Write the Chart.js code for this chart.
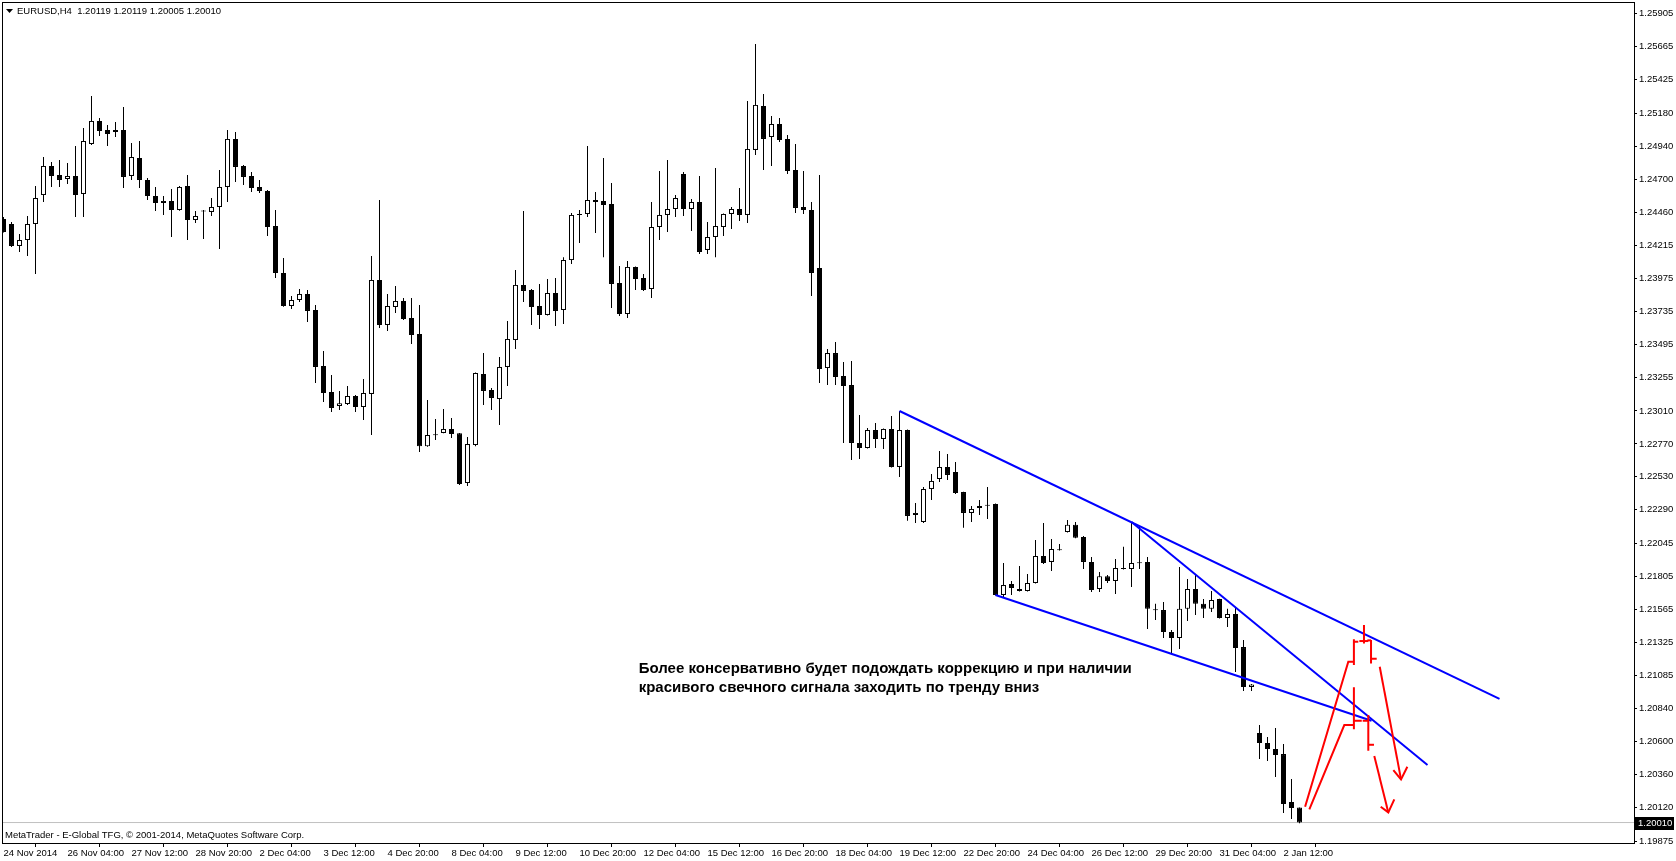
<!DOCTYPE html>
<html>
<head>
<meta charset="utf-8">
<title>EURUSD,H4</title>
<style>
  html, body { margin: 0; padding: 0; background: #ffffff; }
  #chart { display: block; }
</style>
<script src="https://cdn.jsdelivr.net/npm/chart.js@4.4.1/dist/chart.umd.min.js"></script>
</head>
<body>
<canvas id="chart" width="1676" height="861"></canvas>
<script>
// Symbol / timeframe shown in the corner
const symbolName = 'EURUSD,H4';

// H4 candles, bar 0 = 24 Nov 2014 20:00
const opens = [
  1.24410, 1.24373, 1.24213, 1.24256, 1.24373, 1.24584, 1.24796, 1.24730, 1.24701, 1.24723,
  1.24592, 1.24956, 1.25124, 1.25058, 1.25044, 1.25058, 1.24723, 1.24854, 1.24694, 1.24577,
  1.24526, 1.24541, 1.24475, 1.24650, 1.24402, 1.24468, 1.24461, 1.24497, 1.24643, 1.24993,
  1.24796, 1.24723, 1.24643, 1.24614, 1.24358, 1.24016, 1.23775, 1.23819, 1.23863, 1.23746,
  1.23338, 1.23149, 1.23046, 1.23061, 1.23119, 1.23039, 1.23134, 1.23965, 1.23637, 1.23768,
  1.23812, 1.23688, 1.23571, 1.22753, 1.22835, 1.22850, 1.22879, 1.22847, 1.22485, 1.22762,
  1.23280, 1.23163, 1.23097, 1.23331, 1.23527, 1.23929, 1.23892, 1.23775, 1.23710, 1.23870,
  1.23746, 1.24110, 1.24446, 1.24446, 1.24548, 1.24541, 1.24519, 1.23943, 1.23717, 1.24060,
  1.23980, 1.23899, 1.24351, 1.24439, 1.24482, 1.24738, 1.24482, 1.24533, 1.24184, 1.24278,
  1.24351, 1.24446, 1.24482, 1.24439, 1.24913, 1.25233, 1.25007, 1.25102, 1.24993, 1.24767,
  1.24497, 1.24475, 1.24052, 1.23323, 1.23432, 1.23265, 1.23199, 1.22777, 1.22740, 1.22871,
  1.22806, 1.22879, 1.22602, 1.22871, 1.22252, 1.22201, 1.22441, 1.22514, 1.22602, 1.22565,
  1.22419, 1.22267, 1.22303, 1.22325, 1.22332, 1.21669, 1.21749, 1.21712, 1.21698, 1.21756,
  1.21953, 1.21910, 1.21997, 1.22128, 1.22180, 1.22092, 1.21910, 1.21712, 1.21806, 1.21771,
  1.21865, 1.21858, 1.21902, 1.21910, 1.21559, 1.21559, 1.21399, 1.21355, 1.21568, 1.21712,
  1.21604, 1.21568, 1.21639, 1.21501, 1.21530, 1.21289, 1.20998, 1.20663, 1.20590, 1.20546,
  1.20509, 1.20160, 1.20119
];
const highs = [
  1.24424, 1.24388, 1.24300, 1.24431, 1.24650, 1.24861, 1.24825, 1.24840, 1.24818, 1.24942,
  1.25073, 1.25306, 1.25146, 1.25095, 1.25117, 1.25226, 1.24964, 1.24978, 1.24708, 1.24643,
  1.24577, 1.24628, 1.24650, 1.24730, 1.24468, 1.24475, 1.24562, 1.24767, 1.25058, 1.25044,
  1.24803, 1.24752, 1.24694, 1.24621, 1.24475, 1.24125, 1.23848, 1.23899, 1.23892, 1.23783,
  1.23447, 1.23272, 1.23156, 1.23192, 1.23127, 1.23243, 1.24140, 1.24548, 1.23863, 1.23921,
  1.23834, 1.23834, 1.23783, 1.23090, 1.22951, 1.23024, 1.22959, 1.22850, 1.22820, 1.23290,
  1.23432, 1.23177, 1.23403, 1.23666, 1.24038, 1.24468, 1.23899, 1.23936, 1.23972, 1.23980,
  1.24131, 1.24453, 1.24475, 1.24942, 1.24606, 1.24854, 1.24672, 1.24067, 1.24103, 1.24063,
  1.24009, 1.24533, 1.24759, 1.24840, 1.24584, 1.24752, 1.24555, 1.24723, 1.24388, 1.24781,
  1.24450, 1.24497, 1.24635, 1.25270, 1.25685, 1.25321, 1.25160, 1.25146, 1.25022, 1.24956,
  1.24759, 1.24533, 1.24730, 1.23462, 1.23513, 1.23367, 1.23374, 1.22981, 1.22886, 1.22922,
  1.22882, 1.22973, 1.23010, 1.22875, 1.22339, 1.22456, 1.22551, 1.22718, 1.22696, 1.22638,
  1.22422, 1.22317, 1.22361, 1.22456, 1.22335, 1.21902, 1.21771, 1.21880, 1.21821, 1.22070,
  1.22194, 1.22077, 1.22041, 1.22216, 1.22201, 1.22099, 1.21946, 1.21837, 1.21814, 1.21931,
  1.22020, 1.22201, 1.22164, 1.21946, 1.21604, 1.21618, 1.21413, 1.21872, 1.21785, 1.21814,
  1.21639, 1.21698, 1.21642, 1.21568, 1.21581, 1.21340, 1.21020, 1.20721, 1.20633, 1.20699,
  1.20582, 1.20327, 1.20119
];
const lows = [
  1.24310, 1.24206, 1.24169, 1.24140, 1.24009, 1.24533, 1.24643, 1.24643, 1.24665, 1.24424,
  1.24424, 1.24949, 1.25015, 1.24942, 1.25007, 1.24635, 1.24694, 1.24635, 1.24548, 1.24468,
  1.24439, 1.24278, 1.24470, 1.24256, 1.24380, 1.24264, 1.24431, 1.24191, 1.24533, 1.24679,
  1.24657, 1.24606, 1.24599, 1.24286, 1.23980, 1.23770, 1.23754, 1.23804, 1.23659, 1.23214,
  1.23075, 1.23002, 1.23017, 1.23053, 1.23002, 1.22944, 1.22835, 1.23615, 1.23593, 1.23724,
  1.23673, 1.23498, 1.22711, 1.22750, 1.22798, 1.22847, 1.22813, 1.22470, 1.22463, 1.22753,
  1.23053, 1.23017, 1.22908, 1.23192, 1.23462, 1.23804, 1.23637, 1.23608, 1.23706, 1.23630,
  1.23644, 1.24081, 1.24235, 1.24424, 1.24307, 1.24131, 1.23761, 1.23702, 1.23688, 1.23892,
  1.23885, 1.23834, 1.24256, 1.24315, 1.24424, 1.24431, 1.24322, 1.24154, 1.24154, 1.24131,
  1.24286, 1.24337, 1.24395, 1.24380, 1.24876, 1.24767, 1.24796, 1.24971, 1.24738, 1.24453,
  1.24446, 1.23848, 1.23214, 1.23199, 1.23199, 1.22777, 1.22653, 1.22660, 1.22737, 1.22740,
  1.22733, 1.22598, 1.22529, 1.22209, 1.22194, 1.22194, 1.22361, 1.22492, 1.22507, 1.22405,
  1.22158, 1.22201, 1.22252, 1.22223, 1.21665, 1.21654, 1.21669, 1.21695, 1.21695, 1.21753,
  1.21895, 1.21843, 1.21993, 1.22125, 1.22083, 1.21858, 1.21690, 1.21690, 1.21756, 1.21676,
  1.21855, 1.21727, 1.21858, 1.21421, 1.21486, 1.21355, 1.21238, 1.21275, 1.21479, 1.21523,
  1.21501, 1.21545, 1.21498, 1.21435, 1.21107, 1.20969, 1.20969, 1.20473, 1.20459, 1.20342,
  1.20079, 1.20036, 1.20005
];
const closes = [
  1.24315, 1.24213, 1.24256, 1.24373, 1.24562, 1.24796, 1.24723, 1.24694, 1.24723, 1.24584,
  1.24978, 1.25124, 1.25051, 1.25029, 1.25058, 1.24716, 1.24861, 1.24694, 1.24577, 1.24526,
  1.24541, 1.24475, 1.24643, 1.24402, 1.24431, 1.24464, 1.24497, 1.24643, 1.24993, 1.24789,
  1.24716, 1.24635, 1.24614, 1.24351, 1.24016, 1.23775, 1.23819, 1.23863, 1.23739, 1.23331,
  1.23141, 1.23032, 1.23067, 1.23119, 1.23039, 1.23141, 1.23965, 1.23637, 1.23775, 1.23812,
  1.23680, 1.23564, 1.22753, 1.22835, 1.22833, 1.22879, 1.22842, 1.22478, 1.22769, 1.23287,
  1.23156, 1.23105, 1.23331, 1.23535, 1.23929, 1.23885, 1.23768, 1.23710, 1.23870, 1.23739,
  1.24110, 1.24439, 1.24439, 1.24548, 1.24533, 1.24511, 1.23936, 1.23717, 1.24060, 1.23972,
  1.23892, 1.24351, 1.24439, 1.24482, 1.24562, 1.24482, 1.24533, 1.24169, 1.24278, 1.24358,
  1.24446, 1.24482, 1.24439, 1.24920, 1.25241, 1.24993, 1.25102, 1.24985, 1.24759, 1.24490,
  1.24475, 1.24016, 1.23316, 1.23432, 1.23258, 1.23192, 1.22777, 1.22740, 1.22871, 1.22806,
  1.22879, 1.22602, 1.22871, 1.22245, 1.22267, 1.22441, 1.22500, 1.22602, 1.22544, 1.22412,
  1.22267, 1.22296, 1.22317, 1.22320, 1.21669, 1.21741, 1.21720, 1.21698, 1.21756, 1.21953,
  1.21902, 1.22004, 1.21995, 1.22180, 1.22086, 1.21910, 1.21705, 1.21806, 1.21771, 1.21865,
  1.21858, 1.21902, 1.21900, 1.21568, 1.21557, 1.21399, 1.21355, 1.21568, 1.21712, 1.21604,
  1.21568, 1.21632, 1.21501, 1.21530, 1.21282, 1.20998, 1.21017, 1.20590, 1.20546, 1.20502,
  1.20145, 1.20116, 1.20010
];

// Time labels, one every 8 bars
const timeLabels = [
  '24 Nov 2014', '26 Nov 04:00', '27 Nov 12:00', '28 Nov 20:00', '2 Dec 04:00',
  '3 Dec 12:00', '4 Dec 20:00', '8 Dec 04:00', '9 Dec 12:00', '10 Dec 20:00',
  '12 Dec 04:00', '15 Dec 12:00', '16 Dec 20:00', '18 Dec 04:00', '19 Dec 12:00',
  '22 Dec 20:00', '24 Dec 04:00', '26 Dec 12:00', '29 Dec 20:00', '31 Dec 04:00',
  '2 Jan 12:00'
];
const labelStep = 8;

// Price scale labels
const priceTicks = [
  1.25905, 1.25665, 1.25425, 1.25180, 1.24940, 1.24700, 1.24460, 1.24215, 1.23975,
  1.23735, 1.23495, 1.23255, 1.23010, 1.22770, 1.22530, 1.22290, 1.22045, 1.21805,
  1.21565, 1.21325, 1.21085, 1.20840, 1.20600, 1.20360, 1.20120, 1.19875
];
const bidPrice = 1.20010;

// Visible range (bar index / price)
const xMin = -0.1875, xMax = 203.8125;
const yMin = 1.19861, yMax = 1.25991;

// Blue trend lines [bar, price] pairs
const trendLines = [
  [[112, 1.23010], [187, 1.20912]],
  [[124, 1.21669], [171, 1.20752]],
  [[141, 1.22201], [178, 1.20429]]
];

// Red hand-drawn scenario, polylines of [bar, price]
const scenarioLines = [
  [[162.7, 1.20125], [168.1, 1.21182], [168.8, 1.21182]],
  [[168.8, 1.21346], [168.8, 1.21158]],
  [[168.8, 1.21328], [169.35, 1.21328]],
  [[170.06, 1.21450], [170.06, 1.21316]],
  [[169.48, 1.21333], [170.6, 1.21333]],
  [[170.48, 1.21338], [170.94, 1.21338]],
  [[170.94, 1.21340], [170.94, 1.21170]],
  [[170.94, 1.21204], [171.65, 1.21204]],
  [[172.03, 1.21146], [174.69, 1.20325]],
  [[173.73, 1.20393], [174.69, 1.20325], [175.48, 1.20417]],
  [[163.23, 1.20106], [167.6, 1.20721], [168.8, 1.20721]],
  [[168.8, 1.20996], [168.8, 1.20690]],
  [[168.8, 1.20752], [169.78, 1.20752]],
  [[169.9, 1.20752], [170.6, 1.20752]],
  [[170.6, 1.20794], [170.6, 1.20533]],
  [[170.6, 1.20577], [171.31, 1.20577]],
  [[171.35, 1.20495], [173.1, 1.20084]],
  [[172.15, 1.20125], [173.1, 1.20084], [173.85, 1.20179]]
];

// Comment text on the chart
const noteLines = [
  'Более консервативно будет подождать коррекцию и при наличии',
  'красивого свечного сигнала заходить по тренду вниз'
];
const noteAnchor = { x: 79.4, y: 1.21129 };

const smallFont = "'Liberation Sans', Arial, sans-serif";
const tickFont = { family: smallFont, size: 9.5 };

const wicks = lows.map((l, i) => ({ x: i, y: [l, highs[i]] }));
const bodies = opens.map((o, i) => ({ x: i, y: [o, closes[i]] }));
const bodyColors = opens.map((o, i) => closes[i] >= o ? '#ffffff' : '#000000');

function toPoints(list) {
  return list.map(p => ({ x: p[0], y: p[1] }));
}

const datasets = [
  {
    type: 'line',
    data: [{ x: xMin, y: bidPrice }, { x: xMax, y: bidPrice }],
    borderColor: '#c0c0c0', borderWidth: 1, pointRadius: 0, order: 4
  },
  {
    type: 'bar', data: wicks, backgroundColor: '#000000', borderWidth: 0,
    barThickness: 1, grouped: false, inflateAmount: 0, order: 3, clip: 0
  },
  {
    type: 'bar', data: bodies, backgroundColor: bodyColors, borderColor: '#000000',
    borderWidth: 1, borderSkipped: false, barThickness: 5, minBarLength: 1,
    grouped: false, inflateAmount: 0, order: 2, clip: 0
  }
];
trendLines.forEach(line => datasets.push({
  type: 'line', data: toPoints(line), borderColor: '#0000ff', borderWidth: 2,
  pointRadius: 0, order: 1
}));
scenarioLines.forEach(line => datasets.push({
  type: 'line', data: toPoints(line), borderColor: '#ff0000', borderWidth: 2,
  pointRadius: 0, order: 0
}));

// frame, header, footer, comment and current price box
const overlayPlugin = {
  id: 'overlay',
  afterDraw(chart) {
    const { ctx, chartArea: a, scales: { x, y } } = chart;
    ctx.save();
    ctx.strokeStyle = '#000000';
    ctx.lineWidth = 1;
    ctx.strokeRect(a.left + 0.5, a.top + 0.5, a.right - a.left, a.bottom - a.top);

    // header
    const last = opens.length - 1;
    ctx.fillStyle = '#000000';
    ctx.beginPath();
    ctx.moveTo(6, 9); ctx.lineTo(13, 9); ctx.lineTo(9.5, 13); ctx.closePath();
    ctx.fill();
    ctx.font = '9.5px ' + smallFont;
    ctx.textBaseline = 'middle';
    ctx.textAlign = 'left';
    const header = symbolName + '  ' + [opens[last], highs[last], lows[last], closes[last]]
      .map(v => v.toFixed(5)).join(' ');
    ctx.fillText(header, 17, 11);

    // footer
    ctx.fillText('MetaTrader - E-Global TFG, © 2001-2014, MetaQuotes Software Corp.', 5, 835);

    // comment
    ctx.font = 'bold 15px ' + smallFont;
    const nx = x.getPixelForValue(noteAnchor.x);
    const ny = y.getPixelForValue(noteAnchor.y);
    noteLines.forEach((t, i) => ctx.fillText(t, nx, ny + i * 19));

    // current price box
    const by = y.getPixelForValue(bidPrice);
    ctx.fillStyle = '#000000';
    ctx.fillRect(a.right, Math.round(by) - 6, 40, 13);
    ctx.fillStyle = '#ffffff';
    ctx.font = '9.5px ' + smallFont;
    ctx.fillText(bidPrice.toFixed(5), a.right + 4, Math.round(by) + 0.5);
    ctx.restore();
  }
};

new Chart(document.getElementById('chart'), {
  type: 'bar',
  data: { datasets },
  plugins: [overlayPlugin],
  options: {
    responsive: false,
    animation: false,
    devicePixelRatio: 1,
    layout: { padding: { left: 2, top: 2, right: 0, bottom: 0 } },
    plugins: { legend: { display: false }, tooltip: { enabled: false } },
    scales: {
      x: {
        type: 'linear', min: xMin, max: xMax, offset: false,
        grid: { drawOnChartArea: false, tickLength: 4, color: '#000000' },
        border: { display: true, color: '#000000' },
        ticks: {
          autoSkip: false, maxRotation: 0, align: 'start', padding: 1,
          font: tickFont, color: '#000000',
          callback: (v, i) => timeLabels[i]
        },
        afterBuildTicks: s => { s.ticks = timeLabels.map((_, j) => ({ value: j * labelStep })); },
        afterFit: s => { s.height = 18; s.paddingLeft = 0; s.paddingRight = 0; }
      },
      y: {
        position: 'right', min: yMin, max: yMax,
        grid: { drawOnChartArea: false, tickLength: 3, color: '#000000' },
        border: { display: true, color: '#000000' },
        ticks: {
          autoSkip: false, padding: 2, font: tickFont, color: '#000000',
          callback: v => v.toFixed(5)
        },
        afterBuildTicks: s => { s.ticks = priceTicks.map(v => ({ value: v })); },
        afterFit: s => { s.width = 42; s.paddingTop = 0; s.paddingBottom = 0; }
      }
    }
  }
});
</script>
</body>
</html>
